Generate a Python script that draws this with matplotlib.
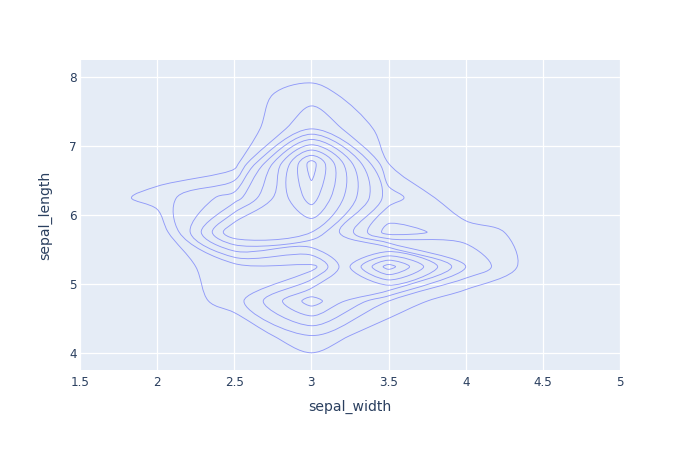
import numpy as np
import matplotlib
matplotlib.use('Agg')
import matplotlib.pyplot as plt
from matplotlib.path import Path
from matplotlib.patches import PathPatch
import contourpy

# iris data (sepal_width, sepal_length)
sepal_width = [
    3.5, 3.0, 3.2, 3.1, 3.6, 3.9, 3.4, 3.4, 2.9, 3.1, 3.7, 3.4, 3.0, 3.0, 4.0, 4.4, 3.9, 3.5, 3.8, 3.8,
    3.4, 3.7, 3.6, 3.3, 3.4, 3.0, 3.4, 3.5, 3.4, 3.2, 3.1, 3.4, 4.1, 4.2, 3.1, 3.2, 3.5, 3.1, 3.0, 3.4,
    3.5, 2.3, 3.2, 3.5, 3.8, 3.0, 3.8, 3.2, 3.7, 3.3,
    3.2, 3.2, 3.1, 2.3, 2.8, 2.8, 3.3, 2.4, 2.9, 2.7, 2.0, 3.0, 2.2, 2.9, 2.9, 3.1, 3.0, 2.7, 2.2, 2.5,
    3.2, 2.8, 2.5, 2.8, 2.9, 3.0, 2.8, 3.0, 2.9, 2.6, 2.4, 2.4, 2.7, 2.7, 3.0, 3.4, 3.1, 2.3, 3.0, 2.5,
    2.6, 3.0, 2.6, 2.3, 2.7, 3.0, 2.9, 2.9, 2.5, 2.8,
    3.3, 2.7, 3.0, 2.9, 3.0, 3.0, 2.5, 2.9, 2.5, 3.6, 3.2, 2.7, 3.0, 2.5, 2.8, 3.2, 3.0, 3.8, 2.6, 2.2,
    3.2, 2.8, 2.8, 2.7, 3.3, 3.2, 2.8, 3.0, 2.8, 3.0, 2.8, 3.8, 2.8, 2.8, 2.6, 3.0, 3.4, 3.1, 3.0, 3.1,
    3.1, 3.1, 2.7, 3.2, 3.3, 3.0, 2.5, 3.0, 3.4, 3.0,
]
sepal_length = [
    5.1, 4.9, 4.7, 4.6, 5.0, 5.4, 4.6, 5.0, 4.4, 4.9, 5.4, 4.8, 4.8, 4.3, 5.8, 5.7, 5.4, 5.1, 5.7, 5.1,
    5.4, 5.1, 4.6, 5.1, 4.8, 5.0, 5.0, 5.2, 5.2, 4.7, 4.8, 5.4, 5.2, 5.5, 4.9, 5.0, 5.5, 4.9, 4.4, 5.1,
    5.0, 4.5, 4.4, 5.0, 5.1, 4.8, 5.1, 4.6, 5.3, 5.0,
    7.0, 6.4, 6.9, 5.5, 6.5, 5.7, 6.3, 4.9, 6.6, 5.2, 5.0, 5.9, 6.0, 6.1, 5.6, 6.7, 5.6, 5.8, 6.2, 5.6,
    5.9, 6.1, 6.3, 6.1, 6.4, 6.6, 6.8, 6.7, 6.0, 5.7, 5.5, 5.5, 5.8, 6.0, 5.4, 6.0, 6.7, 6.3, 5.6, 5.5,
    5.5, 6.1, 5.8, 5.0, 5.6, 5.7, 5.7, 6.2, 5.1, 5.7,
    6.3, 5.8, 7.1, 6.3, 6.5, 7.6, 4.9, 7.3, 6.7, 7.2, 6.5, 6.4, 6.8, 5.7, 5.8, 6.4, 6.5, 7.7, 7.7, 6.0,
    6.9, 5.6, 7.7, 6.3, 6.7, 7.2, 6.2, 6.1, 6.4, 7.2, 7.4, 7.9, 6.4, 6.3, 6.1, 7.7, 6.3, 6.4, 6.0, 6.9,
    6.7, 6.9, 5.8, 6.8, 6.7, 6.7, 6.3, 6.5, 6.2, 5.9,
]

x_ticks = [1.5, 2, 2.5, 3, 3.5, 4, 4.5, 5]
x_ticklabels = ['1.5', '2', '2.5', '3', '3.5', '4', '4.5', '5']
y_ticks = [4, 5, 6, 7, 8]

# plotly-style autobins (size 0.5) and contour step
bin_size = 0.5
x_edges = np.arange(1.75, 4.75 + 0.01, bin_size)
y_edges = np.arange(4.0, 8.0 + 0.01, bin_size)
level_step = 2

BG = '#E5ECF6'
LINE = '#636efa'
TXT = '#2a3f5f'
FONT = 'DejaVu Sans'

counts, _, _ = np.histogram2d(sepal_width, sepal_length, bins=[x_edges, y_edges])
z = np.pad(counts.T, 1)  # zero border so every contour closes
xc = np.concatenate([[x_edges[0] - bin_size / 2], (x_edges[:-1] + x_edges[1:]) / 2, [x_edges[-1] + bin_size / 2]])
yc = np.concatenate([[y_edges[0] - bin_size / 2], (y_edges[:-1] + y_edges[1:]) / 2, [y_edges[-1] + bin_size / 2]])
levels = np.arange(level_step, z.max(), level_step)

fig = plt.figure(figsize=(7, 4.5), dpi=100)
ax = fig.add_axes([80 / 700, 80 / 450, 540 / 700, 310 / 450])
ax.set_facecolor(BG)
ax.set_xlim(xc[0], xc[-1])
ax.set_ylim(yc[0], yc[-1])

# pixel scale, used for smoothing the way plotly does it
sx = 540 / (xc[-1] - xc[0])
sy = 310 / (yc[-1] - yc[0])


def merge_close(pts):
    # drop points that sit too close together (plotly cleanup, roughly)
    gx = pts[:, 0] / bin_size
    gy = pts[:, 1] / bin_size
    d = np.hypot(np.diff(np.r_[gx, gx[0]]), np.diff(np.r_[gy, gy[0]]))
    thr = d.mean() * 0.2
    out = []
    i = 0
    n = len(pts)
    while i < n:
        j = i
        while j < n - 1 and d[j] < thr:
            j += 1
        out.append(pts[(i + j) // 2] if (j - i) % 2 == 0 else (pts[(i + j) // 2] + pts[(i + j) // 2 + 1]) / 2)
        i = j + 1
    return np.array(out)


def tangent(p0, p1, p2, s=1.0):
    d1 = p0 - p1
    d2 = p2 - p1
    d1a = np.hypot(*d1) ** 0.5
    d2a = np.hypot(*d2) ** 0.5
    num = (d2a * d2a * d1 - d1a * d1a * d2) * s
    den1 = 3 * d2a * (d1a + d2a)
    den2 = 3 * d1a * (d1a + d2a)
    a = p1 + (num / den1 if den1 else 0)
    b = p1 - (num / den2 if den2 else 0)
    return a, b


def smooth_closed(pts):
    n = len(pts)
    tg = [tangent(pts[i - 1], pts[i], pts[(i + 1) % n]) for i in range(n)]
    verts = [pts[0]]
    codes = [Path.MOVETO]
    for i in range(1, n + 1):
        verts += [tg[i - 1][1], tg[i % n][0], pts[i % n]]
        codes += [Path.CURVE4] * 3
    return np.array(verts), codes


gen = contourpy.contour_generator(xc, yc, z)
for lev in levels:
    for line in gen.lines(lev):
        pts = np.array(line)
        if np.allclose(pts[0], pts[-1]):
            pts = pts[:-1]
        pts = merge_close(pts)
        if len(pts) < 3:
            continue
        px = np.column_stack([pts[:, 0] * sx, pts[:, 1] * sy])
        verts, codes = smooth_closed(px)
        verts = np.column_stack([verts[:, 0] / sx, verts[:, 1] / sy])
        ax.add_patch(PathPatch(Path(verts, codes), fill=False, edgecolor=LINE,
                               linewidth=0.65, alpha=0.65, zorder=3))

ax.set_xticks(x_ticks)
ax.set_xticklabels(x_ticklabels)
ax.set_yticks(y_ticks)
ax.grid(True, color='white', linewidth=0.9)
ax.set_axisbelow(True)
for sp in ax.spines.values():
    sp.set_visible(False)
ax.tick_params(length=0, labelsize=8.64, labelcolor=TXT, labelfontfamily=FONT)
ax.tick_params(axis='x', pad=4)
ax.tick_params(axis='y', pad=2.5)
ax.set_xlabel('sepal_width', fontsize=10.08, color=TXT, fontfamily=FONT, va='center')
ax.set_ylabel('sepal_length', fontsize=10.08, color=TXT, fontfamily=FONT, va='center')
ax.xaxis.set_label_coords(0.5, (370 - 407) / 310)
ax.yaxis.set_label_coords((45 - 80) / 540, 0.5)

fig.savefig('out.png', dpi=100)
